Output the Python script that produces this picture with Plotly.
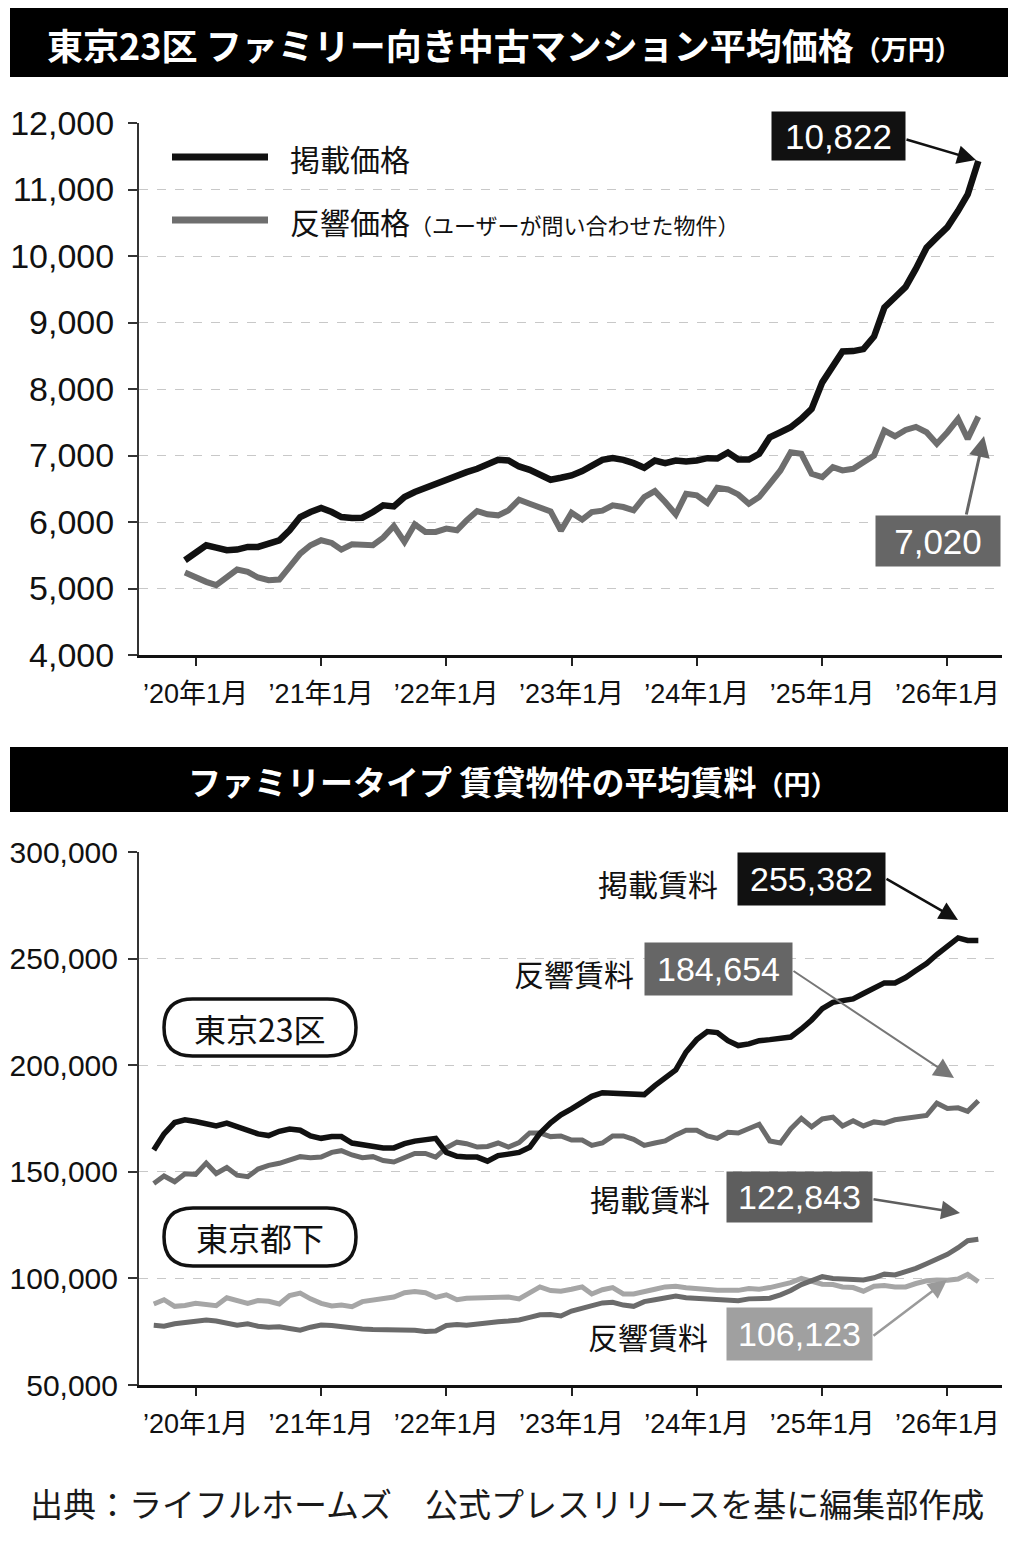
import plotly.graph_objects as go
import pandas as pd

W, H = 1018, 1544

# ---------------- DATA ----------------
price_dates = pd.date_range("2019-12-01", "2026-04-01", freq="MS")
listing_price = [
    5425,
    5540, 5650, 5615, 5575, 5585, 5625, 5625, 5675, 5725, 5875, 6075, 6150,
    6210, 6150, 6075, 6060, 6065, 6150, 6250, 6235, 6375, 6450, 6515, 6585,
    6650, 6715, 6750, 6800, 6875, 6935, 6925, 6835, 6785, 6710, 6635, 6665,
    6700, 6765, 6850, 6935, 6960, 6935, 6885, 6815, 6925, 6885, 6925, 6910,
    6925, 6960, 6955, 7045, 6940, 6940, 7025, 7275, 7350, 7425, 7550, 7700,
    8100, 8340, 8565, 8570, 8600, 8790, 9225, 9380, 9535, 9810, 10125, 10280,
    10435, 10680, 10925, 11430,
]
inquiry_price = [
    5240,
    5165, 5100, 5050, 5175, 5285, 5250, 5165, 5125, 5135, 5325, 5525, 5650,
    5725, 5685, 5585, 5665, 5650, 5650, 5765, 5940, 5700, 5965, 5850, 5850,
    5900, 5875, 6025, 6165, 6115, 6100, 6175, 6335, 6275, 6215, 6160, 5870,
    6140, 6035, 6150, 6170, 6250, 6225, 6175, 6375, 6465, 6300, 6115, 6425,
    6400, 6285, 6515, 6490, 6415, 6275, 6375, 6575, 6775, 7050, 7025, 6725,
    6675, 6825, 6775, 6800, 6905, 7000, 7375, 7290, 7385, 7430, 7350, 7175,
    7350, 7550, 7250, 7585,
]

rent_dates = pd.date_range("2019-09-01", "2026-04-01", freq="MS")
ku23_listing_rent = [
    160200, 167800, 173100, 174400, 173600, 172300, 171500, 172800, 171000, 169500, 167800, 167000,
    169000, 170100, 169500, 166800, 165700, 166500, 166500, 163500, 162700, 162400, 161200, 161200,
    163200, 164400, 165200, 165700, 159100, 157300, 156900, 156900, 155000, 157600, 158300, 159100,
    161500, 168000, 173000, 176700, 179500, 182500, 185400, 187100, 187000, 186800, 186500, 186200,
    190400, 194100, 197800, 206200, 212000, 215800, 215300, 211500, 209200, 210000, 211500, 212000,
    212500, 213200, 217000, 221200, 226500, 229500, 230300, 231100, 233600, 236100, 238600, 238600,
    241100, 244400, 247700, 251900, 256000, 259700, 258500, 258500,
]
ku23_inquiry_rent = [
    144500, 148000, 145300, 149100, 148800, 154100, 149200, 152000, 148400, 147700, 151300, 153000,
    154000, 155800, 157100, 156600, 156900, 159100, 159900, 157900, 156600, 157100, 155300, 154600,
    156900, 158600, 158600, 156900, 161200, 163900, 163200, 161600, 161900, 163500, 161600, 163700,
    168200, 168200, 166500, 166800, 164900, 164900, 162400, 163500, 166800, 166800, 165200, 162400,
    163500, 164500, 167300, 169500, 169500, 166800, 165700, 168500, 168200, 170100, 172300, 164500,
    163500, 170100, 175100, 171100, 174800, 175600, 171500, 173900, 171500, 173400, 172800, 174400,
    175200, 175900, 176400, 182200, 179700, 180000, 178400, 183300,
]
toka_listing_rent = [
    78000, 77600, 78700, 79300, 79600, 80500, 80000, 79200, 78000, 78700, 77600, 77100,
    77300, 76500, 75700, 77100, 78100, 77900, 77300, 76700, 76300, 76000, 75900, 76000,
    76000, 75700, 75100, 75300, 77900, 78400, 78000, 78700, 79300, 79700, 80000, 80500,
    81700, 82900, 83100, 82400, 84700, 86000, 87600, 88500, 88800, 87500, 86900, 89100,
    90000, 90700, 91700, 90900, 90700, 90500, 90000, 89700, 89500, 90400, 90500, 90700,
    92300, 94300, 97100, 99100, 100800, 100000, 99600, 99300, 99300, 100300, 102000, 101600,
    103100, 104700, 106900, 108800, 111300, 114400, 117700, 118400,
]
toka_inquiry_rent = [
    88000, 90000, 86900, 87300, 88300, 88000, 87200, 90900, 89600, 88300, 89600, 89300,
    88000, 92000, 93100, 90400, 88300, 87100, 87500, 86700, 89100, 90000, 90400, 91300,
    93300, 93900, 93300, 91100, 92300, 90000, 90700, 90900, 90900, 90900, 91300, 90400,
    93300, 96000, 94300, 94000, 94900, 96000, 92700, 94700, 95700, 92700, 92700, 93600,
    94900, 96000, 96300, 95600, 95100, 94700, 94500, 94400, 94400, 95300, 94900, 95700,
    96800, 98000, 100000, 98700, 97300, 97100, 96000, 95700, 94000, 96300, 96700, 96000,
    96000, 97600, 98900, 99200, 99100, 99700, 101900, 98400,
]

x_tick_dates = ["2020-01-01", "2021-01-01", "2022-01-01", "2023-01-01",
                "2024-01-01", "2025-01-01", "2026-01-01"]
x_tick_labels = ["’20年1月", "’21年1月", "’22年1月", "’23年1月",
                 "’24年1月", "’25年1月", "’26年1月"]
price_ticks = [4000, 5000, 6000, 7000, 8000, 9000, 10000, 11000, 12000]
price_tick_labels = ["4,000", "5,000", "6,000", "7,000", "8,000", "9,000",
                     "10,000", "11,000", "12,000"]
rent_ticks = [50000, 100000, 150000, 200000, 250000, 300000]
rent_tick_labels = ["50,000", "100,000", "150,000", "200,000", "250,000", "300,000"]

price_listing_label = "10,822"
price_inquiry_label = "7,020"
ku23_listing_label = "255,382"
ku23_inquiry_label = "184,654"
toka_listing_label = "122,843"
toka_inquiry_label = "106,123"

# ---------------- STYLE ----------------
JP = "Noto Sans CJK JP, sans-serif"
NUM = "Liberation Sans, Arial, sans-serif"
MIX = "Liberation Sans, Arial, Noto Sans CJK JP, sans-serif"
BLACK = "#111111"
DGRAY = "#6b6b6b"
LGRAY = "#a6a6a6"
GRID = "#c8c8c8"


def fx(x):
    return x / W


def fy(y):
    return 1 - y / H


fig = go.Figure()

fig.add_trace(go.Scatter(x=price_dates, y=inquiry_price, mode="lines",
                         line=dict(color="#6e6e6e", width=6), xaxis="x", yaxis="y",
                         name="反響価格"))
fig.add_trace(go.Scatter(x=price_dates, y=listing_price, mode="lines",
                         line=dict(color=BLACK, width=6.5), xaxis="x", yaxis="y",
                         name="掲載価格"))

fig.add_trace(go.Scatter(x=rent_dates, y=toka_inquiry_rent, mode="lines",
                         line=dict(color=LGRAY, width=5), xaxis="x2", yaxis="y2",
                         name="東京都下 反響賃料"))
fig.add_trace(go.Scatter(x=rent_dates, y=toka_listing_rent, mode="lines",
                         line=dict(color=DGRAY, width=5), xaxis="x2", yaxis="y2",
                         name="東京都下 掲載賃料"))
fig.add_trace(go.Scatter(x=rent_dates, y=ku23_inquiry_rent, mode="lines",
                         line=dict(color=DGRAY, width=5), xaxis="x2", yaxis="y2",
                         name="東京23区 反響賃料"))
fig.add_trace(go.Scatter(x=rent_dates, y=ku23_listing_rent, mode="lines",
                         line=dict(color=BLACK, width=5.5), xaxis="x2", yaxis="y2",
                         name="東京23区 掲載賃料"))

xaxis_common = dict(
    type="date", range=["2019-07-20", "2026-06-09"], automargin=False,
    tickmode="array", tickvals=x_tick_dates, ticktext=x_tick_labels,
    ticks="outside", ticklen=8, tickwidth=2, tickcolor="#222",
    showline=True, linewidth=3, linecolor=BLACK, showgrid=False, zeroline=False,
    tickfont=dict(family=MIX, size=27, color=BLACK), ticklabelstandoff=5,
)
yaxis_common = dict(
    tickmode="array", ticks="outside", ticklen=9, tickwidth=2, tickcolor="#333",
    showline=True, linewidth=2, linecolor="#333", showgrid=True, gridcolor=GRID,
    gridwidth=1, griddash="dash", zeroline=False, automargin=False,
)

fig.update_layout(
    width=W, height=H, autosize=False,
    margin=dict(l=0, r=0, t=0, b=0, pad=0, autoexpand=False),
    paper_bgcolor="white", plot_bgcolor="white", showlegend=False,
    xaxis=dict(domain=[fx(139), fx(1002)], anchor="y", **xaxis_common),
    yaxis=dict(domain=[fy(655), fy(123)], anchor="x", range=[4000, 12000],
               tickvals=price_ticks, ticktext=price_tick_labels, ticklabelstandoff=7,
               tickfont=dict(family=NUM, size=34, color=BLACK), **yaxis_common),
    xaxis2=dict(domain=[fx(139), fx(1002)], anchor="y2", **xaxis_common),
    yaxis2=dict(domain=[fy(1385), fy(852)], anchor="x2", range=[50000, 300000],
                tickvals=rent_ticks, ticktext=rent_tick_labels, ticklabelstandoff=4,
                tickfont=dict(family=NUM, size=30, color=BLACK), **yaxis_common),
)

shapes = []
annotations = []


def rect(x0, y0, x1, y1, fill):
    shapes.append(dict(type="rect", xref="paper", yref="paper",
                       x0=fx(x0), x1=fx(x1), y0=fy(y1), y1=fy(y0),
                       fillcolor=fill, line=dict(width=0), layer="above"))


def hline(x0, x1, y, color, width):
    shapes.append(dict(type="line", xref="paper", yref="paper",
                       x0=fx(x0), x1=fx(x1), y0=fy(y), y1=fy(y),
                       line=dict(color=color, width=width), layer="above"))


def pill(x0, y0, x1, y1):
    r = (y1 - y0) / 2
    pts = [
        f"M {fx(x0 + r)},{fy(y0)}",
        f"L {fx(x1 - r)},{fy(y0)}",
        f"Q {fx(x1)},{fy(y0)} {fx(x1)},{fy(y0 + r)}",
        f"Q {fx(x1)},{fy(y1)} {fx(x1 - r)},{fy(y1)}",
        f"L {fx(x0 + r)},{fy(y1)}",
        f"Q {fx(x0)},{fy(y1)} {fx(x0)},{fy(y0 + r)}",
        f"Q {fx(x0)},{fy(y0)} {fx(x0 + r)},{fy(y0)}",
        "Z",
    ]
    shapes.append(dict(type="path", xref="paper", yref="paper", path=" ".join(pts),
                       fillcolor="white", line=dict(color=BLACK, width=3.5), layer="above"))


def text(x, y, s, size, color=BLACK, family=JP, xanchor="left"):
    annotations.append(dict(x=fx(x), y=fy(y), xref="paper", yref="paper", text=s,
                            showarrow=False, xanchor=xanchor, yanchor="middle",
                            font=dict(family=family, size=size, color=color)))


def box(x0, y0, x1, y1, s, bg, size=35):
    annotations.append(dict(x=fx((x0 + x1) / 2), y=fy((y0 + y1) / 2), xref="paper", yref="paper",
                            text=s, showarrow=False, xanchor="center", yanchor="middle",
                            width=x1 - x0, height=y1 - y0, bgcolor=bg, borderpad=0,
                            align="center", valign="middle",
                            font=dict(family=NUM, size=size, color="white")))


def arrow(x0, y0, x1, y1, color, width=2.5, size=1.6):
    annotations.append(dict(x=fx(x1), y=fy(y1), xref="paper", yref="paper", text="",
                            showarrow=True, ax=x0 - x1, ay=y0 - y1, axref="pixel", ayref="pixel",
                            arrowhead=2, arrowsize=size, arrowwidth=width, arrowcolor=color,
                            standoff=0, startstandoff=0))


# title bars
rect(10, 8, 1008, 77, "#000000")
text(45, 44, "<b>東京23区 ファミリー向き中古マンション平均価格</b>"
     "<span style='font-size:27px'><b>（万円）</b></span>", 36, color="white")
rect(10, 747, 1008, 812, "#000000")
annotations.append(dict(x=fx(513), y=fy(781), xref="paper", yref="paper",
                        text="<b>ファミリータイプ 賃貸物件の平均賃料</b>"
                             "<span style='font-size:27px'><b>（円）</b></span>",
                        showarrow=False, xanchor="center", yanchor="middle",
                        font=dict(family=JP, size=33, color="white")))

# legend of top chart
hline(172, 268, 157, BLACK, 7)
text(288, 158, "掲載価格", 30)
hline(172, 268, 220, "#6e6e6e", 7)
text(288, 221, "反響価格<span style='font-size:22px'>（ユーザーが問い合わせた物件）</span>", 30)

# top callouts
box(772, 112, 905, 160, price_listing_label, BLACK)
arrow(905, 139, 976, 160, BLACK, 2.5, 1.5)
box(876, 516, 1000, 566, price_inquiry_label, "#666666")
arrow(966, 516, 984, 436, "#666666", 3, 1.4)

# bottom region labels
pill(164, 999, 356, 1056)
text(260, 1028, "東京23区", 32, xanchor="center")
pill(164, 1208, 356, 1266)
text(260, 1237, "東京都下", 32, xanchor="center")

# bottom callouts
text(720, 883, "掲載賃料", 30, xanchor="right")
box(738, 853, 885, 905, ku23_listing_label, BLACK, 34)
arrow(885, 878, 958, 920, BLACK, 2.5, 1.5)

text(636, 973, "反響賃料", 30, xanchor="right")
box(645, 943, 792, 995, ku23_inquiry_label, "#666666", 34)
arrow(792, 970, 954, 1078, "#777777", 2, 2.0)

text(712, 1198, "掲載賃料", 30, xanchor="right")
box(727, 1172, 872, 1222, toka_listing_label, "#5e5e5e", 34)
arrow(872, 1199, 960, 1213, "#5e5e5e", 2.5, 1.5)

text(710, 1336, "反響賃料", 30, xanchor="right")
box(727, 1308, 872, 1360, toka_inquiry_label, "#a0a0a0", 34)
arrow(872, 1337, 947, 1280, "#9a9a9a", 2.5, 1.5)

# source
text(28, 1503, "出典：ライフルホームズ　公式プレスリリースを基に編集部作成", 33, color="#1a1a1a")

fig.update_layout(shapes=shapes, annotations=annotations)
fig.write_html("out.html")
